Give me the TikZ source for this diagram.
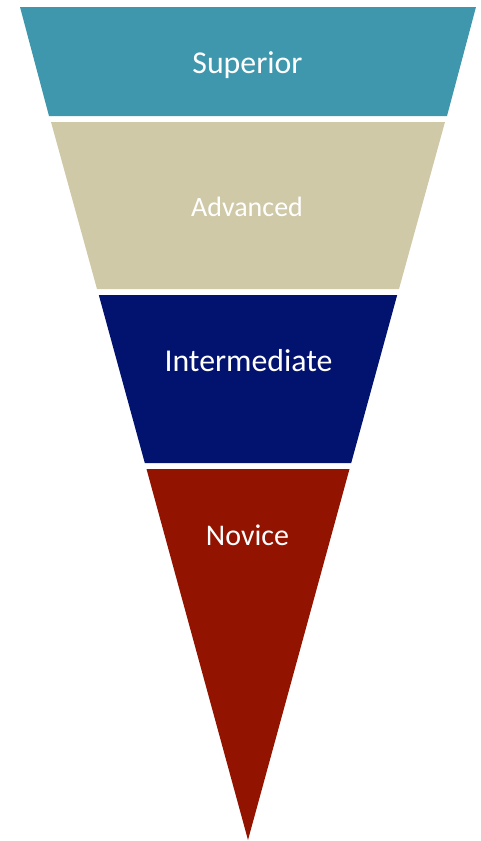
\documentclass[tikz,border=0pt]{standalone}
\usepackage{fontspec}
\setmainfont{Carlito}
\definecolor{superiorteal}{HTML}{3E97AD}
\definecolor{advancedbeige}{HTML}{CFC9A7}
\definecolor{intermediatenavy}{HTML}{02126F}
\definecolor{novicered}{HTML}{921300}
\begin{document}
\begin{tikzpicture}[x=1pt,y=-1pt,
  levellabel/.style={text=white, anchor=base, inner sep=0pt}]
\useasboundingbox (0,0) rectangle (481,841);
% funnel bands
\fill[superiorteal] (20,7) -- (476,7) -- (447,116) -- (49,116) -- cycle;
\fill[advancedbeige] (51,122) -- (445,122) -- (399,289) -- (97,289) -- cycle;
\fill[intermediatenavy] (98.8,295) -- (397.2,295) -- (351.2,463) -- (144.8,463) -- cycle;
\fill[novicered] (146.5,469) -- (349.5,469) -- (248,840) -- cycle;
% labels
\node[levellabel, font=\fontsize{31.8}{31.8}\selectfont] (superior) at (247.5,73) {Superior};
\node[levellabel, font=\fontsize{28}{28}\selectfont] (advanced) at (247,216) {Advanced};
\node[levellabel, font=\fontsize{31.8}{31.8}\selectfont] (intermediate) at (248.5,371.5) {Intermediate};
\node[levellabel, font=\fontsize{30}{30}\selectfont] (novice) at (247.5,545) {Novice};
\end{tikzpicture}
\end{document}
